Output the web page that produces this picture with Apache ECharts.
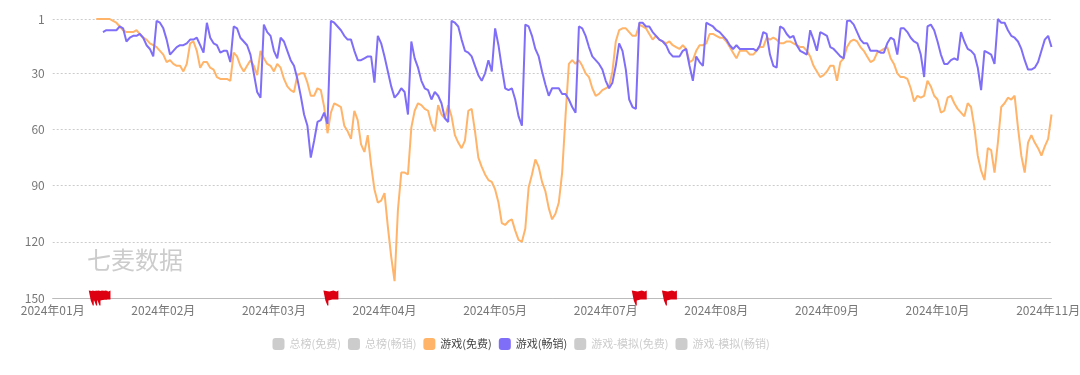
<!DOCTYPE html>
<html>
<head>
<meta charset="utf-8">
<title>七麦数据</title>
<script src="https://cdn.jsdelivr.net/npm/echarts@6/dist/echarts.min.js"></script>
<style>
    html, body { margin: 0; padding: 0; background: #fff; }
    #rankChart { width: 1080px; height: 375px; }
</style>
</head>
<body>
<div id="rankChart"></div>
<script>
/*x轴刻度，每33个点一个标签*/
var tickLabels = ['2024年01月','2024年02月','2024年03月','2024年04月','2024年05月','2024年07月','2024年08月','2024年09月','2024年10月','2024年11月'];
var tickStep = 33;
var pointCount = 299;

/*y轴刻度*/
var rankTicks = [1, 30, 60, 90, 120, 150];

var legendNames = ['总榜(免费)','总榜(畅销)','游戏(免费)','游戏(畅销)','游戏-模拟(免费)','游戏-模拟(畅销)'];

/*游戏(免费)排名*/
var gameFree = [
    null,null,null,null,null,null,null,null,null,null,null,null,null,
    1,1,1,1,1,2,3,5,7,8,8,8,7,9,11,12,14,15,16,18,20,24,23,25,26,26,29,25,14,13,18,27,24,24,27,28,32,33,33,33,34,
    19,21,26,29,26,23,26,31,18,22,25,26,29,25,27,33,37,39,40,31,30,30,35,42,42,38,39,48,62,51,46,47,48,58,61,65,50,55,68,72,63,
    79,92,99,98,94,112,128,141,103,83,83,84,59,50,46,47,49,50,57,61,47,52,54,47,53,63,67,70,66,50,49,61,75,80,84,87,88,92,99,
    110,111,109,108,114,119,120,113,91,84,76,80,88,93,102,108,105,99,83,53,25,23,25,23,26,30,32,38,42,41,39,38,37,29,13,7,6,6,8,10,10,
    4,5,6,9,12,10,12,13,14,13,15,16,17,15,17,24,23,18,15,15,14,9,9,10,11,11,13,16,19,22,18,18,18,20,20,18,16,16,11,12,11,12,14,14,13,13,14,15,16,16,
    18,21,26,29,32,31,29,26,26,34,24,22,16,13,12,13,16,18,21,24,23,19,18,17,16,22,25,30,32,32,33,38,45,42,43,42,34,37,42,44,51,50,43,42,46,49,51,53,46,48,
    59,74,82,87,70,71,83,67,48,46,43,44,42,59,74,83,67,63,67,70,74,69,65,52
];

/*游戏(畅销)排名*/
var gamePaid = [
    null,null,null,null,null,null,null,null,null,null,null,null,null,null,null,
    8,7,7,7,7,5,6,13,11,10,10,9,11,15,17,21,2,3,6,12,20,18,16,15,15,14,12,12,11,15,19,3,11,14,15,19,18,18,24,
    5,6,11,13,15,20,30,40,43,4,8,10,18,22,11,13,18,23,26,33,42,52,58,75,66,56,55,51,57,2,3,5,7,10,12,12,18,23,23,22,21,21,
    35,10,14,21,29,37,43,41,38,40,52,13,22,27,34,38,39,44,40,42,46,54,56,2,3,5,12,18,19,21,26,31,34,30,23,29,6,15,27,38,39,38,44,53,58,
    4,5,10,17,21,29,36,42,38,38,38,41,41,44,48,51,5,6,10,16,21,23,25,28,34,38,35,26,14,18,28,44,48,49,3,3,5,5,8,10,12,13,15,19,21,21,21,18,17,
    26,34,21,24,26,3,4,5,7,8,10,12,15,17,15,17,17,17,17,17,18,15,8,9,20,26,27,5,6,9,11,10,15,18,19,20,7,12,18,8,9,10,16,17,19,21,22,2,2,4,8,12,14,14,
    18,18,18,19,19,14,11,12,20,6,6,8,11,13,14,20,32,5,4,7,13,20,25,25,23,22,23,8,13,17,18,20,27,39,18,19,20,25,1,3,3,7,10,11,13,17,23,28,28,27,24,18,12,10,16
];

/*上榜旗标所在的点*/
var flagPoints = [13, 14, 15, 83, 175, 184];

/*这些榜单默认不显示，没有数据*/
var totalFree = [];
var totalPaid = [];
var simFree = [];
var simPaid = [];

var categories = new Array();
for (var i = 0; i < pointCount; i++) {
    categories.push(i % tickStep === 0 ? tickLabels[i / tickStep] : '');
}

var flagData = new Array();
for (var k = 0; k < flagPoints.length; k++) {
    flagData.push({coord: [flagPoints[k], 150]});
}

var fontName = '"Noto Sans CJK SC", "Noto Sans", sans-serif';

var rankChart = echarts.init(document.getElementById('rankChart'));

function lineSeries(name, values, color) {
    return {
        name: name,
        type: 'line',
        data: values,
        showSymbol: false,
        symbol: 'none',
        connectNulls: false,
        lineStyle: {width: 2, color: color},
        itemStyle: {color: color}
    };
}

var freeSeries = lineSeries(legendNames[2], gameFree, '#FFB469');
freeSeries.markPoint = {
    symbol: 'path://M0 0 L6 1 L10 0 L13 1 L15 0 L15 9 L9 9 L5 10 L5 15 L4 15 L2 10 Z',
    symbolSize: [15, 15],
    itemStyle: {color: '#DD0011'},
    label: {show: false},
    data: flagData
};

var option = {
    animation: false,
    textStyle: {fontFamily: fontName},
    grid: {left: 52.7, top: 19, width: 998.8, height: 279, outerBoundsMode: 'none'},
    legend: {
        left: 272.5,
        top: 338,
        padding: 0,
        icon: 'roundRect',
        itemWidth: 12,
        itemHeight: 12,
        itemGap: 7,
        data: legendNames,
        selected: {
            '总榜(免费)': false,
            '总榜(畅销)': false,
            '游戏(免费)': true,
            '游戏(畅销)': true,
            '游戏-模拟(免费)': false,
            '游戏-模拟(畅销)': false
        },
        inactiveColor: '#ccc',
        textStyle: {fontSize: 11, color: '#444', fontFamily: fontName}
    },
    xAxis: {
        type: 'category',
        boundaryGap: false,
        data: categories,
        axisLine: {onZero: false, lineStyle: {color: '#bbb', width: 1}},
        axisTick: {show: false},
        axisLabel: {interval: tickStep - 1, fontSize: 12, color: '#777', margin: 6, fontFamily: fontName}
    },
    yAxis: {
        type: 'value',
        inverse: true,
        min: 1,
        max: 150,
        axisLine: {show: false},
        axisTick: {show: false, customValues: rankTicks},
        axisLabel: {customValues: rankTicks, fontSize: 12, color: '#777', margin: 8, fontFamily: fontName},
        splitLine: {lineStyle: {color: '#ccc', type: [2, 2], width: 1}}
    },
    graphic: [{
        type: 'text',
        left: 87,
        top: 248,
        style: {text: '七麦数据', fontSize: 24, fontFamily: fontName, fill: '#ccc'}
    }],
    series: [
        lineSeries(legendNames[0], totalFree, '#ccc'),
        lineSeries(legendNames[1], totalPaid, '#ccc'),
        freeSeries,
        lineSeries(legendNames[3], gamePaid, '#7F6EF7'),
        lineSeries(legendNames[4], simFree, '#ccc'),
        lineSeries(legendNames[5], simPaid, '#ccc')
    ]
};

rankChart.setOption(option);
</script>
</body>
</html>
